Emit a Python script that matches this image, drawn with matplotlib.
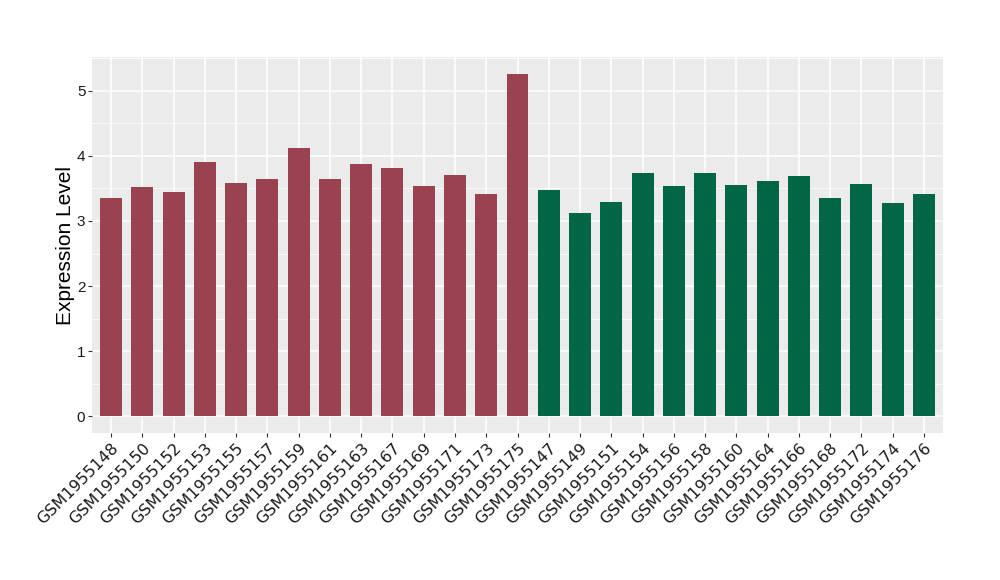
import numpy as np
import matplotlib.pyplot as plt
from matplotlib.ticker import MultipleLocator

# sample names and expression values
group1_samples = ["GSM1955148", "GSM1955150", "GSM1955152", "GSM1955153", "GSM1955155",
                  "GSM1955157", "GSM1955159", "GSM1955161", "GSM1955163", "GSM1955167",
                  "GSM1955169", "GSM1955171", "GSM1955173", "GSM1955175"]
group1_values = [3.35, 3.52, 3.45, 3.90, 3.58, 3.65, 4.12, 3.64, 3.88, 3.81,
                 3.53, 3.70, 3.42, 5.25]
group2_samples = ["GSM1955147", "GSM1955149", "GSM1955151", "GSM1955154", "GSM1955156",
                  "GSM1955158", "GSM1955160", "GSM1955164", "GSM1955166", "GSM1955168",
                  "GSM1955172", "GSM1955174", "GSM1955176"]
group2_values = [3.47, 3.12, 3.29, 3.73, 3.53, 3.73, 3.55, 3.62, 3.69, 3.36,
                 3.56, 3.27, 3.42]

samples = group1_samples + group2_samples
values = group1_values + group2_values
colors = ["#9A4350"] * len(group1_samples) + ["#006645"] * len(group2_samples)

plt.rcParams["font.family"] = "DejaVu Sans"

fig = plt.figure(figsize=(10, 5.8), dpi=100)
ax = fig.add_axes([0.0923, 0.253, 0.8504, 0.649])

x = np.arange(len(samples))
ax.bar(x, values, width=0.7, color=colors, zorder=3)

ax.set_facecolor("#EBEBEB")
ax.set_xlim(-0.6, len(samples) - 0.4)
ax.set_ylim(-0.26, 5.52)
ax.yaxis.set_major_locator(MultipleLocator(1))
ax.yaxis.set_minor_locator(MultipleLocator(0.5))
ax.grid(which="major", color="white", linewidth=1.1, zorder=0)
ax.grid(which="minor", axis="y", color="white", linewidth=0.55, zorder=0)
ax.tick_params(axis="y", which="minor", length=0)
for s in ax.spines.values():
    s.set_visible(False)

ax.tick_params(axis="both", which="major", length=3, width=0.8, color="#333333", pad=2)
ax.set_xticks(x)
ax.set_xticklabels(samples, rotation=45, ha="right", rotation_mode="anchor",
                   fontsize=11.5, fontfamily="DejaVu Sans", color="#1a1a1a")
ax.set_yticks([0, 1, 2, 3, 4, 5])
ax.set_yticklabels(["0", "1", "2", "3", "4", "5"], fontsize=11,
                   fontfamily="Liberation Sans", color="#1a1a1a")

ax.set_ylabel("Expression Level", fontsize=15, fontfamily="Liberation Sans", labelpad=1)

fig.savefig("out.png", dpi=100)
